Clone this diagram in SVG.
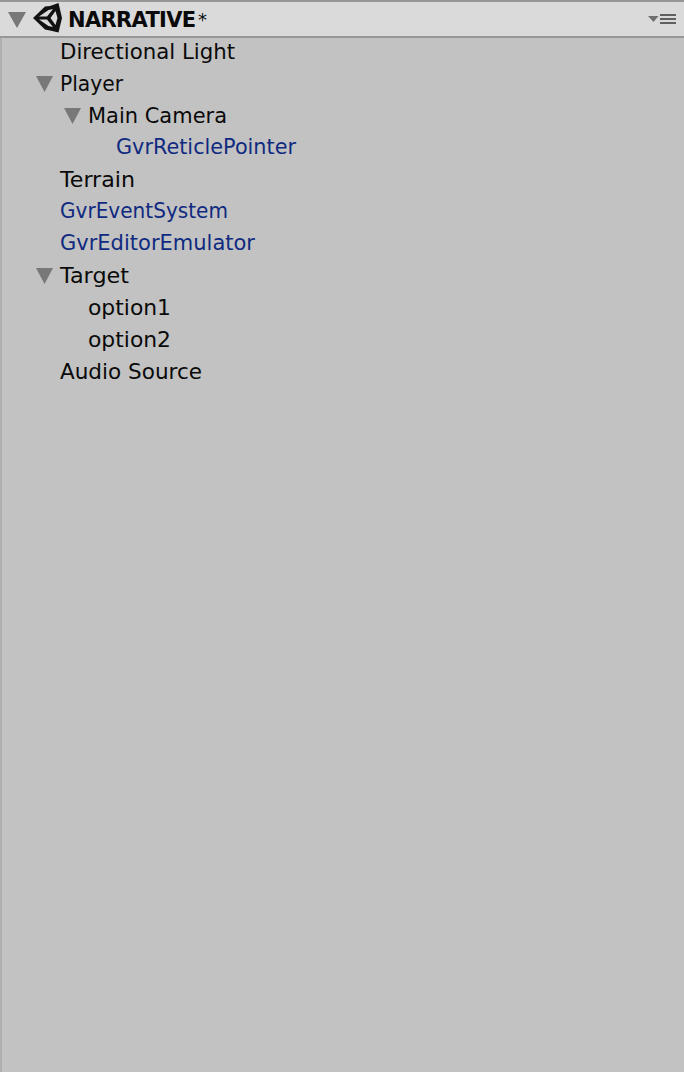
<svg xmlns="http://www.w3.org/2000/svg" width="684" height="1072" viewBox="0 0 684 1072">
<style>
text{font-family:"DejaVu Sans",sans-serif;font-size:21px;fill:#0a0a0a}
.b{fill:#0f2a80}
.t{fill:#787878}
.h{font-weight:bold;letter-spacing:-0.67px}
.s{font-size:18px;font-weight:normal}
</style>
<rect width="684" height="1072" fill="#c2c2c2"/>
<rect x="0" y="0" width="2" height="1072" fill="#b0b0b0"/>
<g id="header">
<rect width="684" height="38" fill="#dadada"/>
<rect width="684" height="2" fill="#979797"/>
<rect y="36" width="684" height="2" fill="#979797"/>
<polygon class="t" points="8,12 26,12 17,28"/>
<path id="unity-logo" fill="#111" fill-rule="evenodd" d="M33,18 L45,6.500 L50,6 L58.500,3 L62,18 L58.500,32.500 L50,30.500 L45,29.500 Z M39,16.500 L48.500,10 L53,9 L47,16.500 Z M55.500,11 L57.500,18 L55.500,25 L50.500,18 Z M39,19.500 L47,19.500 L53,27 L48.500,26 Z"/>
<text x="68" y="27"><tspan class="h">NARRATIVE</tspan><tspan class="s" x="198" y="25.500">*</tspan></text>
<polygon fill="#707070" points="648,16 658.500,16 653.500,22"/>
<rect x="660" y="14" width="16" height="2" fill="#606060"/>
<rect x="660" y="18" width="16" height="2" fill="#606060"/>
<rect x="660" y="22" width="16" height="2" fill="#606060"/>
</g>
<g id="directional-light"><text x="60" y="59" textLength="175" lengthAdjust="spacingAndGlyphs">Directional Light</text></g>
<g id="player"><polygon class="t" points="36,76 53,76 44.500,92"/><text x="60" y="91" textLength="63" lengthAdjust="spacingAndGlyphs">Player</text></g>
<g id="main-camera"><polygon class="t" points="64,108 81,108 72.500,124"/><text x="88" y="123" textLength="139" lengthAdjust="spacingAndGlyphs">Main Camera</text></g>
<g id="gvr-reticle-pointer"><text class="b" x="116" y="154" textLength="180" lengthAdjust="spacingAndGlyphs">GvrReticlePointer</text></g>
<g id="terrain"><text x="60" y="187" textLength="75" lengthAdjust="spacingAndGlyphs">Terrain</text></g>
<g id="gvr-event-system"><text class="b" x="60" y="218" textLength="168" lengthAdjust="spacingAndGlyphs">GvrEventSystem</text></g>
<g id="gvr-editor-emulator"><text class="b" x="60" y="250" textLength="195" lengthAdjust="spacingAndGlyphs">GvrEditorEmulator</text></g>
<g id="target"><polygon class="t" points="36,268 53,268 44.500,284"/><text x="60" y="283" textLength="69" lengthAdjust="spacingAndGlyphs">Target</text></g>
<g id="option1"><text x="88" y="315" textLength="83" lengthAdjust="spacingAndGlyphs">option1</text></g>
<g id="option2"><text x="88" y="347" textLength="83" lengthAdjust="spacingAndGlyphs">option2</text></g>
<g id="audio-source"><text x="60" y="379" textLength="142" lengthAdjust="spacingAndGlyphs">Audio Source</text></g>
<g id="connectors"></g>
</svg>
